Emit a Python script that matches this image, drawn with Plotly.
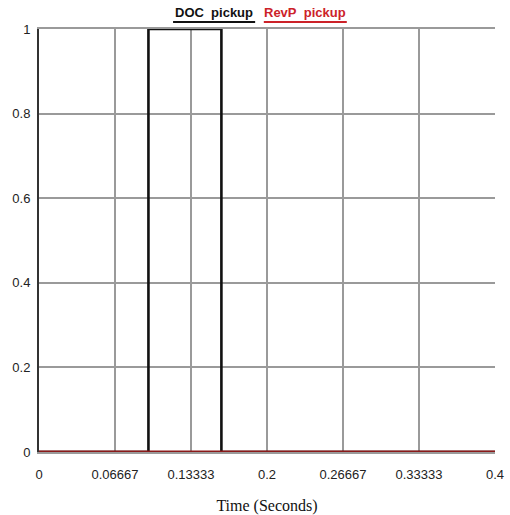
import plotly.graph_objects as go

# Pickup signals (logic level vs time in seconds)
doc_time = [0.0, 0.096, 0.096, 0.16, 0.16, 0.4]
doc_level = [0, 0, 1, 1, 0, 0]
revp_time = [0.0, 0.4]
revp_level = [0, 0]

x_ticks = [0, 0.4 / 6, 0.8 / 6, 0.2, 1.6 / 6, 2.0 / 6, 0.4]
x_labels = ["0", "0.06667", "0.13333", "0.2", "0.26667", "0.33333", "0.4"]
y_ticks = [0, 0.2, 0.4, 0.6, 0.8, 1]
y_labels = ["0", "0.2", "0.4", "0.6", "0.8", "1"]

series_names = ["DOC pickup", "RevP pickup"]
series_colors = ["#111111", "#8b1a1a"]
legend_colors = ["#111111", "#cc2229"]

fig = go.Figure()
fig.add_trace(go.Scatter(x=doc_time, y=doc_level, mode="lines", name=series_names[0],
                         line=dict(color=series_colors[0], width=2.6), cliponaxis=False))
fig.add_trace(go.Scatter(x=revp_time, y=revp_level, mode="lines", name=series_names[1],
                         line=dict(color=series_colors[1], width=3), cliponaxis=False))

tick_font = dict(family="Liberation Sans, Arial, sans-serif", size=13, color="#222222")

fig.update_xaxes(range=[0, 0.4], tickvals=x_ticks, ticktext=x_labels, showgrid=True,
                 gridcolor="#9a9a9a", gridwidth=1.5, zeroline=False, showline=True,
                 linecolor="#9a9a9a", linewidth=1.5, mirror=True, ticks="",
                 layer="below traces",
                 tickfont=tick_font, ticklabelstandoff=10, automargin=False,
                 title=dict(text="Time (Seconds)", standoff=26,
                            font=dict(family="Liberation Serif, Times New Roman, serif",
                                      size=16, color="#111111")))
fig.update_yaxes(range=[0, 1], tickvals=y_ticks, ticktext=y_labels, showgrid=True,
                 gridcolor="#9a9a9a", gridwidth=1.5, zeroline=False, showline=True,
                 linecolor="#333333", linewidth=2, ticks="", ticklabelstandoff=4,
                 tickfont=tick_font, automargin=False)

# Legend drawn as underlined labels above the plot
legend_pos = [(0.294, 0.474), (0.493, 0.675)]
for name, col, (x0, x1) in zip(series_names, legend_colors, legend_pos):
    fig.add_annotation(x=(x0 + x1) / 2, y=1, xref="paper", yref="paper", yanchor="bottom",
                       yshift=7, showarrow=False, text=name.replace(" ", "\u00a0\u00a0"),
                       font=dict(family="Liberation Sans, Arial, sans-serif", size=13,
                                 color=col, weight="bold"))
    fig.add_shape(type="line", xref="paper", yref="paper", x0=x0, x1=x1,
                  y0=1.0165, y1=1.0165, line=dict(color=col, width=2))

fig.update_layout(width=510, height=515, margin=dict(l=39, r=15, t=29, b=63),
                  paper_bgcolor="white", plot_bgcolor="white", showlegend=False)

fig.write_html("out.html")
